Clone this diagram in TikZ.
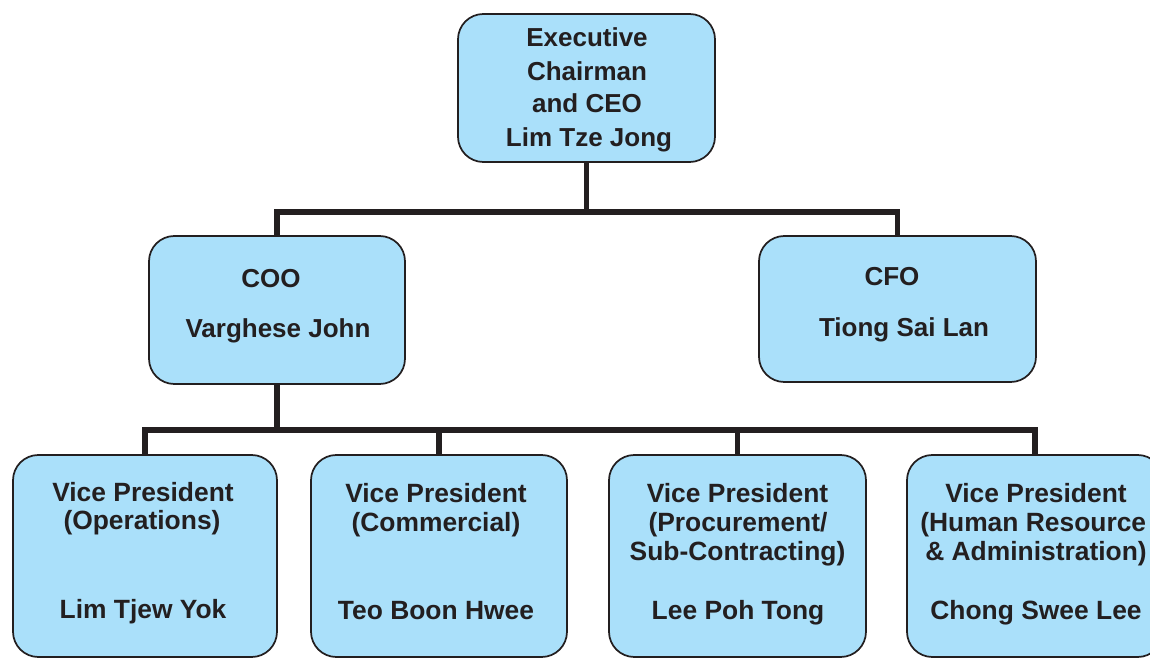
\documentclass[tikz,border=0pt]{standalone}
\usepackage{fontspec}
\setmainfont{Liberation Sans}
\definecolor{boxfill}{RGB}{170,224,250}
\definecolor{ink}{RGB}{35,31,32}
\begin{document}
\begin{tikzpicture}[x=0.75pt,y=-0.75pt,
  box/.style={draw=ink, line width=1.3pt, fill=boxfill, rounded corners=19pt, inner sep=0pt},
  conn/.style={draw=ink, line width=4pt},
  big/.style={font=\bfseries\fontsize{19.5}{24}\selectfont, text=ink, anchor=base, inner sep=0pt},
  small/.style={font=\bfseries\fontsize{19.8}{24}\selectfont, text=ink, anchor=base, inner sep=0pt}]
\useasboundingbox (0,0) rectangle (1150,659);
\clip (0,0) rectangle (1150,659);
% boxes
\node[box, minimum width=192.75pt, minimum height=111pt] (ceo) at (586.5,88) {};
\node[box, minimum width=192pt, minimum height=111pt] (coo) at (277,310) {};
\node[box, minimum width=207.75pt, minimum height=109.5pt] (cfo) at (897.5,309) {};
\node[box, minimum width=198pt, minimum height=151.5pt] (vp1) at (145,556) {};
\node[box, minimum width=192pt, minimum height=151.5pt] (vp2) at (439,556) {};
\node[box, minimum width=192.75pt, minimum height=151.5pt] (vp3) at (737.5,556) {};
\node[box, minimum width=192pt, minimum height=151.5pt] (vp4) at (1035,556) {};
% junctions
\coordinate (j1) at (586.5,212);
\coordinate (j2) at (277,430);
% connectors
\draw[conn] (ceo.south) -- (j1);
\draw[conn] (coo.north) |- (j1) -| (cfo.north);
\draw[conn] (coo.south) -- (j2);
\draw[conn] (vp1.north) |- (j2) -| (vp4.north);
\draw[conn] (vp2.north) -- (vp2.north |- j2);
\draw[conn] (vp3.north) -- (vp3.north |- j2);
% texts
\node[big] (t1) at (587,47) {Executive};
\node[big] (t2) at (587,81) {Chairman};
\node[big] (t3) at (587,113) {and CEO};
\node[big] (t4) at (589,147) {Lim Tze Jong};
\node[big] (t5) at (271,288) {COO};
\node[big] (t6) at (278,338) {Varghese John};
\node[big] (t7) at (892,286) {CFO};
\node[big] (t8) at (904,337) {Tiong Sai Lan};
\node[small] (a1) at (143,501) {Vice President};
\node[small] (a2) at (142,529) {(Operations)};
\node[small] (a3) at (143,618) {Lim Tjew Yok};
\node[small] (b1) at (436,502) {Vice President};
\node[small] (b2) at (436,531) {(Commercial)};
\node[small] (b3) at (436,619) {Teo Boon Hwee};
\node[small] (c1) at (737.5,502) {Vice President};
\node[small] (c2) at (738,531) {(Procurement/};
\node[small] (c3) at (737.5,560) {Sub-Contracting)};
\node[small] (c4) at (738,619) {Lee Poh Tong};
\node[small] (d1) at (1036,502) {Vice President};
\node[small, anchor=base west] (d2) at (920,531) {(Human Resource};
\node[small] (d3) at (1036,560) {\& Administration)};
\node[small] (d4) at (1036,619) {Chong Swee Lee};
\end{tikzpicture}
\end{document}
